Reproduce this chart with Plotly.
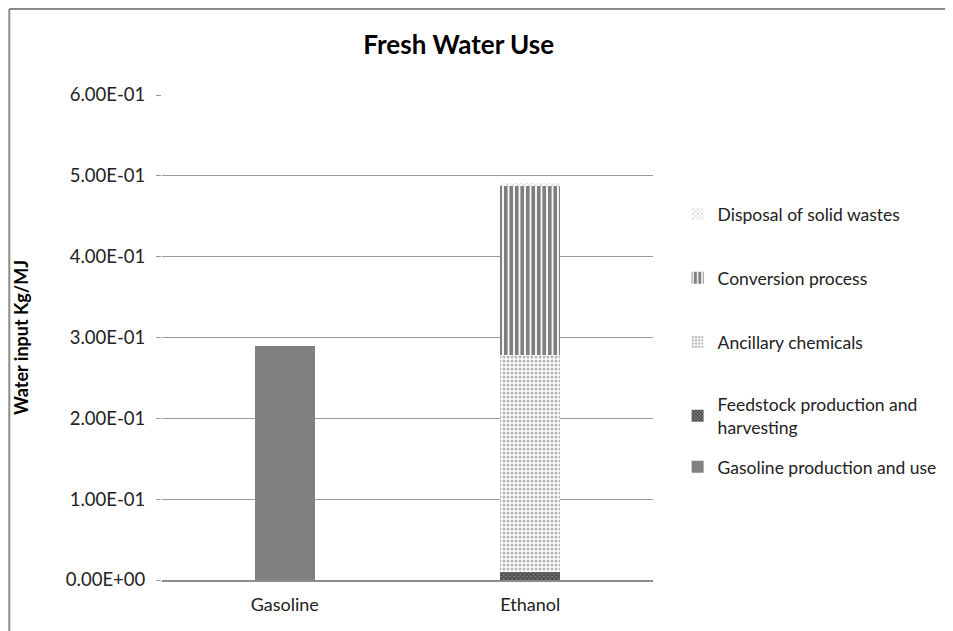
import plotly.graph_objects as go

categories = ["Gasoline", "Ethanol"]
gasoline_production_and_use = [0.29, 0]
feedstock_production = [0, 0.010]
ancillary_chemicals = [0, 0.268]
conversion_process = [0, 0.210]
disposal_solid_wastes = [0, 0.003]

y_tickvals = [0, 0.1, 0.2, 0.3, 0.4, 0.5, 0.6]
y_ticktext = ["0.00E+00", "1.00E-01", "2.00E-01", "3.00E-01", "4.00E-01", "5.00E-01", "6.00E-01"]

FONT = "Lato, 'Open Sans', sans-serif"

fig = go.Figure()
fig.add_trace(go.Bar(
    x=categories, y=gasoline_production_and_use, name="Gasoline production and use",
    marker=dict(color="#808080", line=dict(width=0)), legend="legend5"))
fig.add_trace(go.Bar(
    x=categories, y=feedstock_production, name="Feedstock production and<br>harvesting",
    marker=dict(color="#505050", line=dict(width=0),
                pattern=dict(shape="x", fgcolor="#000000", bgcolor="#7a7a7a", size=3, solidity=0.5)),
    legend="legend4"))
fig.add_trace(go.Bar(
    x=categories, y=ancillary_chemicals, name="Ancillary chemicals",
    marker=dict(color="#ffffff", line=dict(width=0),
                pattern=dict(shape=".", fgcolor="#6a6a6a", bgcolor="#ffffff", size=4, solidity=0.45)),
    legend="legend3"))
fig.add_trace(go.Bar(
    x=categories, y=conversion_process, name="Conversion process",
    marker=dict(color="#ffffff", line=dict(width=0),
                pattern=dict(shape="|", fgcolor="#000000", bgcolor="#ffffff", size=5.5, solidity=0.68)),
    legend="legend2"))
fig.add_trace(go.Bar(
    x=categories, y=disposal_solid_wastes, name="Disposal of solid wastes",
    marker=dict(color="#ffffff", line=dict(width=0),
                pattern=dict(shape="x", fgcolor="#888888", bgcolor="#ffffff", size=4, solidity=0.3)),
    legend="legend"))

fig.update_traces(showlegend=True)

legend_font = dict(family=FONT, size=17.5, color="#222222")


def leg(y):
    return dict(x=1.048, xanchor="left", y=y, yanchor="middle", font=legend_font,
                itemwidth=30, bgcolor="rgba(0,0,0,0)", visible=True)


fig.update_layout(
    showlegend=True,
    barmode="stack",
    bargap=0.756,
    width=945, height=623,
    paper_bgcolor="white", plot_bgcolor="white",
    margin=dict(l=154, r=299, t=87, b=51),
    font=dict(family=FONT, size=17, color="#222222"),
    title=dict(text="<b>Fresh Water Use</b>", x=0.477, xanchor="center", y=0.9406, yanchor="middle",
               font=dict(family=FONT, size=26, color="#000000")),
    legend=leg(0.7546),
    legend2=leg(0.6227),
    legend3=leg(0.4907),
    legend4=leg(0.3381),
    legend5=leg(0.2330),
    xaxis=dict(showline=True, linecolor="#8c8c8c", linewidth=1.5, ticks="", showgrid=False,
               ticklabelstandoff=8,
               tickfont=dict(family=FONT, size=18, color="#222222")),
    yaxis=dict(range=[0, 0.6], tickvals=y_tickvals, ticktext=y_ticktext,
               showgrid=True, gridcolor="#9a9a9a", gridwidth=1.2, zeroline=False, showline=False,
               ticks="outside", ticklen=5, tickcolor="#9a9a9a", ticklabelstandoff=7,
               tickfont=dict(family=FONT, size=18.5, color="#222222"),
               title=dict(text="<b>Water input Kg/MJ</b>", standoff=32,
                          font=dict(family=FONT, size=18, color="#000000"))),
    shapes=[
        dict(type="line", xref="paper", yref="paper", x0=-0.3110, x1=1.62, y0=1.1773, y1=1.1773,
             line=dict(color="#8a8a8a", width=2)),
        dict(type="line", xref="paper", yref="paper", x0=-0.3110, x1=-0.3110, y0=1.1773, y1=-0.12,
             line=dict(color="#8a8a8a", width=2)),
    ],
)

fig.write_html("out.html")
